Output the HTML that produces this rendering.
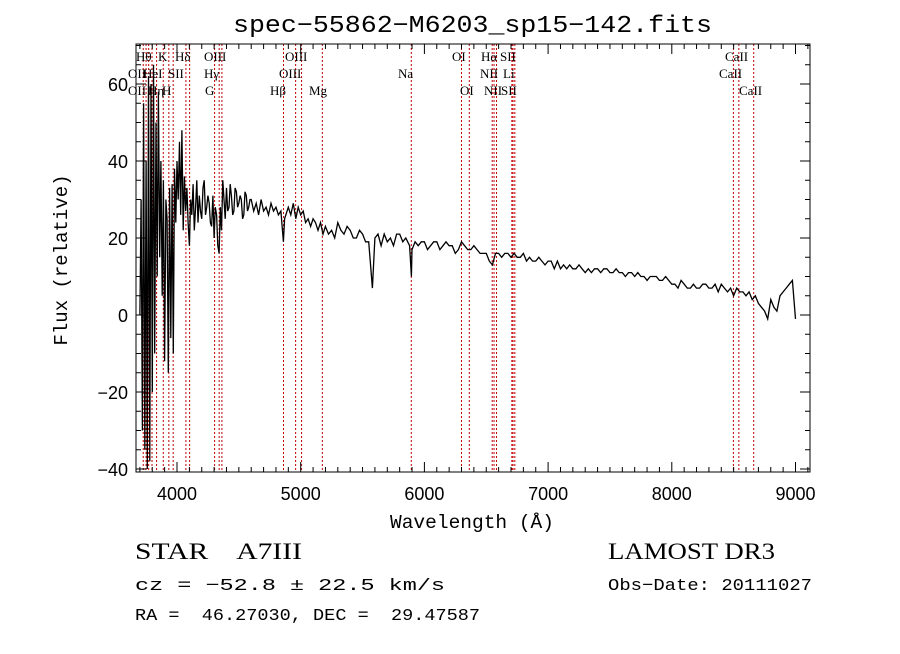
<!DOCTYPE html>
<html><head><meta charset="utf-8"><style>
body{margin:0;background:#fff;}
svg text{font-family:"Liberation Serif",serif;fill:#000;}
</style></head><body>
<svg id="chart" width="900" height="649" viewBox="0 0 900 649" xmlns="http://www.w3.org/2000/svg">
<rect x="0" y="0" width="900" height="649" fill="#fff"/>
<text x="233" y="32" textLength="479" lengthAdjust="spacingAndGlyphs" font-size="24" style="font-family:'Liberation Mono',monospace">spec−55862−M6203_sp15−142.fits</text>
<g id="lines"></g>
<g id="spec"></g>
<rect x="136" y="44" width="674" height="428" fill="none" stroke="#000" stroke-width="1"/>
<g id="axes"></g>
<text x="390" y="528" textLength="164" lengthAdjust="spacingAndGlyphs" font-size="19" style="font-family:'Liberation Mono',monospace">Wavelength (Å)</text>
<text transform="translate(67,260) rotate(-90)" text-anchor="middle" font-size="19" style="font-family:'Liberation Mono',monospace">Flux (relative)</text>
<text x="135" y="559" font-size="23" textLength="167" lengthAdjust="spacingAndGlyphs" xml:space="preserve">STAR    A7III</text>
<text x="608" y="559" font-size="23" textLength="167" lengthAdjust="spacingAndGlyphs">LAMOST DR3</text>
<text x="135" y="590" font-size="17" textLength="310" lengthAdjust="spacingAndGlyphs" style="font-family:'Liberation Mono',monospace">cz = −52.8 ± 22.5 km/s</text>
<text x="608" y="590" font-size="17" textLength="204" lengthAdjust="spacingAndGlyphs" style="font-family:'Liberation Mono',monospace">Obs−Date: 20111027</text>
<text x="135" y="620" font-size="17" textLength="345" lengthAdjust="spacingAndGlyphs" style="font-family:'Liberation Mono',monospace" xml:space="preserve">RA =  46.27030, DEC =  29.47587</text>
</svg>
<script>
const waveBlue=[3700,3710,3720,3730,3740,3750,3760,3770,3780,3790,3800,3810,3820,3830,3840,3850,3860,3870,3880,3890,3900,3910,3920,3930,3940,3950,3960,3970,3980,3990,4000,4010,4020,4030,4040,4050,4060,4070,4080,4090,4100,4110,4120,4130,4140,4150,4160,4170,4180,4190,4200,4210,4220,4230,4240,4250,4260,4270,4280,4290,4300,4310,4320,4330,4340,4350,4360,4370,4380,4390,4400,4410,4420,4430,4440,4450,4460,4470,4480,4490,4500,4510,4520,4530,4540,4550,4560,4570,4580,4590,4600,4620,4640,4660,4680,4700,4720,4740,4760,4780,4800,4820,4840,4860,4870,4900,4920,4940,4960,4980,5000,5020,5040,5060,5080,5100,5120,5140,5160,5180,5200,5225,5250,5275,5300,5325,5350,5375,5400,5425,5450,5475,5500,5525,5550,5580,5600,5625,5650,5675,5700,5725,5750,5775,5800,5825,5850,5880,5895,5900,5925,5950,5975,6000,6025,6050,6075,6100,6125,6150,6175,6200,6225,6250,6275,6300,6325,6350,6375,6400,6425,6450,6475];
const fluxBlue=[0,30,-30,55,-35,40,-40,62,-38,60,-20,65,-10,50,10,58,15,40,5,35,-12,30,25,-15,33,-6,34,-10,38,24,40,30,45,26,48,22,36,27,33,24,18,30,26,34,22,28,35,24,31,27,25,33,35,26,28,31,29,24,23,31,20,28,26,18,16,28,22,35,30,25,33,27,28,34,31,26,27,33,32,28,29,31,30,25,26,32,31,27,28,30,30,27,29,26,30,27,28,26,29,27,28,26,27,19,25,28,26,29,25,28,26,27,24,25,23,25,24,22,24,21,23,21,22,20,24,22,21,23,22,20,20,22,21,19,19,7,20,21,18,21,19,20,18,21,21,19,20,18,10,17,19,18,19,19,17,18,19,19,17,18,19,18,18,16,17,19,18,17,17,18,17,16];
const waveRed=[
6500,6525,6550,6575,6600,6625,6650,6675,6700,6725,
6750,6775,6800,6825,6850,6875,6900,6925,6950,6975,
7000,7025,7050,7075,7100,7125,7150,7175,7200,7225,
7250,7275,7300,7325,7350,7375,7400,7425,7450,7475,
7500,7525,7550,7575,7600,7625,7650,7675,7700,7725,
7750,7775,7800,7825,7850,7875,7900,7925,7950,7975,
8000,8025,8050,8075,8100,8125,8150,8175,8200,8225,
8250,8275,8300,8325,8350,8375,8400,8425,8450,8475,
8500,8525,8550,8575,8600,8625,8650,8675,8700,8725,
8750,8775,8800,8825,8850,8875,8900,8925,8950,8975,
9000,9005];
const fluxRed=[
16,16,14,13,16,16,15,16,16,15,
16,15,15,16,14,15,14,14,15,14,
13,14,14,12,14,12,13,12,13,12,
12,13,12,11,12,11,12,12,11,12,
12,11,11,12,11,11,10,11,11,10,
11,10,10,9,10,10,10,9,9,10,
9,8,8,7,9,8,7,7,8,7,
7,8,8,7,7,8,6,8,7,6,
7,5,7,6,6,5,6,4,5,3,
2,1,-1,4,2,1,5,6,7,8,
9,-1];
const lineWaves=[3727,3750,3771,3798,3835,3889,3934,3969,4072,4102,4304,4341,4363,4861,4959,5007,5175,5894,6300,6363,6548,6563,6583,6707,6716,6731,8498,8542,8662];
const lineLabels=[["OII",128,95],["Hθ",136,61],["OII",128,78],["HeI",143,78],["Hη",148,95],["K",158,61],["SII",168,78],["H",162,95],["Hδ",175,61],["OIII",204,61],["Hγ",204,78],["G",205,95],["OIII",285,61],["OIII",279,78],["Hβ",270,95],["Mg",309,95],["Na",398,78],["OI",452,61],["OI",460,95],["Hα",481,61],["SII",500,61],["NII",480,78],["Li",503,78],["NII",484,95],["SII",501,95],["CaII",725,61],["CaII",719,78],["CaII",739,95]];
const xTickVals=[4000,5000,6000,7000,8000,9000];
const yTickVals=[-40,-20,0,20,40,60];
const wave=waveBlue.concat(waveRed);
const flux=fluxBlue.concat(fluxRed);
const X0=136,X1=810,Y0=44,Y1=472;
function xs(w){return 177+(w-4000)*0.1237;}
function ys(f){return 315-f*3.85;}
const NS="http://www.w3.org/2000/svg";
function mk(tag,attrs,parent){const e=document.createElementNS(NS,tag);for(const k in attrs)e.setAttribute(k,attrs[k]);parent.appendChild(e);return e;}
const lg=document.getElementById('lines');
lineWaves.forEach(w=>{const l=mk('line',{x1:xs(w),x2:xs(w),y1:Y0,y2:Y1,stroke:'#c00000','stroke-width':1,'stroke-dasharray':'2,2'},lg);

});
lineLabels.forEach(a=>{const t=mk('text',{x:a[1],y:a[2],'font-size':13},lg);t.textContent=a[0];

});
const sg=document.getElementById('spec');
let d='';const n=Math.min(wave.length,flux.length);
for(let i=0;i<n;i++){d+=(i?'L':'M')+xs(wave[i]).toFixed(1)+','+Math.min(Y1,Math.max(Y0,ys(flux[i]))).toFixed(1);}
const p=mk('path',{d:d,fill:'none',stroke:'#000','stroke-width':1.3},sg);


const ax=document.getElementById('axes');
for(let w=3700;w<=9100;w+=100){const x=xs(w);if(x<X0||x>X1)continue;const L=(w%1000===0)?10:5;
mk('line',{x1:x,x2:x,y1:Y1,y2:Y1-L,stroke:'#000'},ax);mk('line',{x1:x,x2:x,y1:Y0,y2:Y0+L,stroke:'#000'},ax);}
for(let f=-40;f<=70;f+=5){const y=ys(f);if(y<Y0||y>Y1)continue;const L=(f%20===0)?10:5;
mk('line',{x1:X0,x2:X0+L,y1:y,y2:y,stroke:'#000'},ax);mk('line',{x1:X1,x2:X1-L,y1:y,y2:y,stroke:'#000'},ax);}
xTickVals.forEach(v=>{const t=mk('text',{x:xs(v),y:500,'text-anchor':'middle','font-size':18,style:"font-family:'Liberation Sans',sans-serif"},ax);t.textContent=String(v);

});
yTickVals.forEach(v=>{const t=mk('text',{x:128,y:ys(v)+7,'text-anchor':'end','font-size':18,style:"font-family:'Liberation Sans',sans-serif"},ax);t.textContent=(v<0?'−':'')+Math.abs(v);

});
</script>
</body></html>
